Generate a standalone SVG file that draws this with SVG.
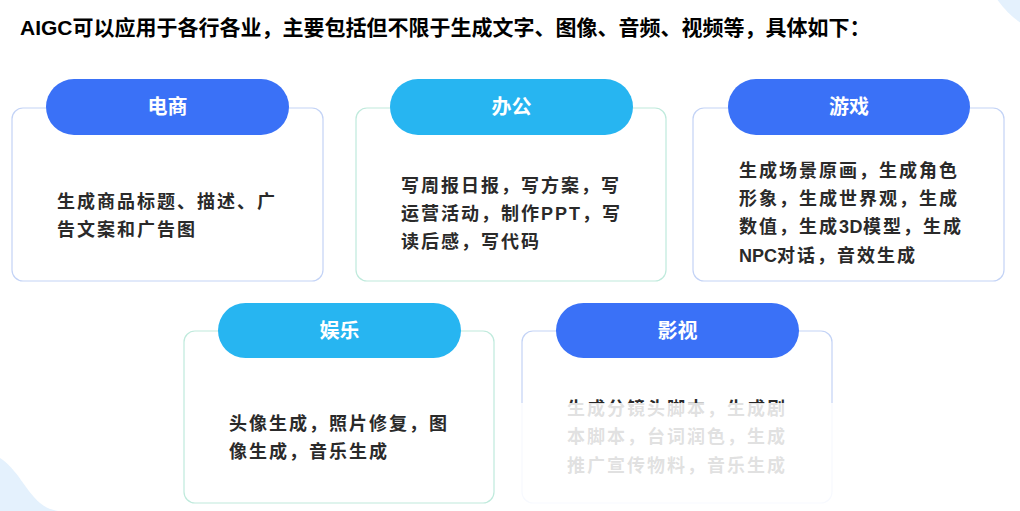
<svg xmlns="http://www.w3.org/2000/svg" width="1020" height="511" viewBox="0 0 1020 511">
<style>
.title{font-family:"Liberation Sans","Noto Sans CJK SC",sans-serif;font-weight:bold;font-size:21px;fill:#000}
.card{fill:#fff;stroke-width:1.2}
.cb{stroke:#c3d3f6}
.cm{stroke:#bfeadc}
.pb{fill:#3a71f7}
.pc{fill:#27b5f1}
.pt{font-family:"Liberation Sans","Noto Sans CJK SC",sans-serif;font-weight:bold;font-size:20px;fill:#fff;text-anchor:middle}
.bt{font-family:"Liberation Sans","Noto Sans CJK SC",sans-serif;font-weight:bold;font-size:18px;fill:#2a2a2a;letter-spacing:2px}
.deco{fill:#e4f1fd}
</style>
<rect width="1020" height="511" fill="#fff"/>
<circle class="deco" cx="1075" cy="-55" r="95"/>
<path class="deco" d="M0,458 C18,470 25,490 40,503 C46,508 52,510 58,511 L0,511 Z"/>
<text class="title" x="20" y="35">AIGC可以应用于各行各业，主要包括但不限于生成文字、图像、音频、视频等，具体如下：</text>

<g id="node-dianshang">
<rect class="card cb" x="12" y="108" width="311" height="173" rx="11"/>
<rect class="pb" x="46" y="79" width="243" height="56" rx="28"/>
<text class="pt" x="167.5" y="114">电商</text>
<text class="bt" x="57" y="208">生成商品标题、描述、广</text>
<text class="bt" x="57" y="236">告文案和广告图</text>
</g>

<g id="node-bangong">
<rect class="card cm" x="356" y="108" width="310" height="173" rx="11"/>
<rect class="pc" x="390" y="79" width="243" height="56" rx="28"/>
<text class="pt" x="511.5" y="114">办公</text>
<text class="bt" x="401" y="191.5">写周报日报，写方案，写</text>
<text class="bt" x="401" y="220">运营活动，制作PPT，写</text>
<text class="bt" x="401" y="248">读后感，写代码</text>
</g>

<g id="node-youxi">
<rect class="card cb" x="693" y="108" width="311" height="173" rx="11"/>
<rect class="pb" x="728" y="79" width="242" height="56" rx="28"/>
<text class="pt" x="849" y="114">游戏</text>
<text class="bt" x="739" y="176.5">生成场景原画，生成角色</text>
<text class="bt" x="739" y="205">形象，生成世界观，生成</text>
<text class="bt" x="739" y="233">数值，生成<tspan letter-spacing="0.5">3D</tspan>模型，生成</text>
<text class="bt" x="739" y="261.5"><tspan letter-spacing="0">NPC</tspan>对话，音效生成</text>
</g>

<g id="node-yule">
<rect class="card cm" x="184" y="331" width="310" height="172" rx="11"/>
<rect class="pc" x="218" y="303" width="243" height="55" rx="27.5"/>
<text class="pt" x="339.5" y="337.5">娱乐</text>
<text class="bt" x="229" y="430">头像生成，照片修复，图</text>
<text class="bt" x="229" y="458">像生成，音乐生成</text>
</g>

<g id="node-yingshi">
<rect class="card cb" x="522" y="331" width="310" height="172" rx="11"/>
<rect class="pb" x="556" y="303" width="243" height="55" rx="27.5"/>
<text class="pt" x="677.5" y="337.5">影视</text>
<text class="bt" x="567" y="415">生成分镜头脚本，生成剧</text>
<text class="bt" x="567" y="443">本脚本，台词润色，生成</text>
<text class="bt" x="567" y="471.5">推广宣传物料，音乐生成</text>
</g>

<g id="connectors"></g>

<rect x="510" y="403" width="510" height="108" fill="#fff" opacity="0.86"/>
</svg>
